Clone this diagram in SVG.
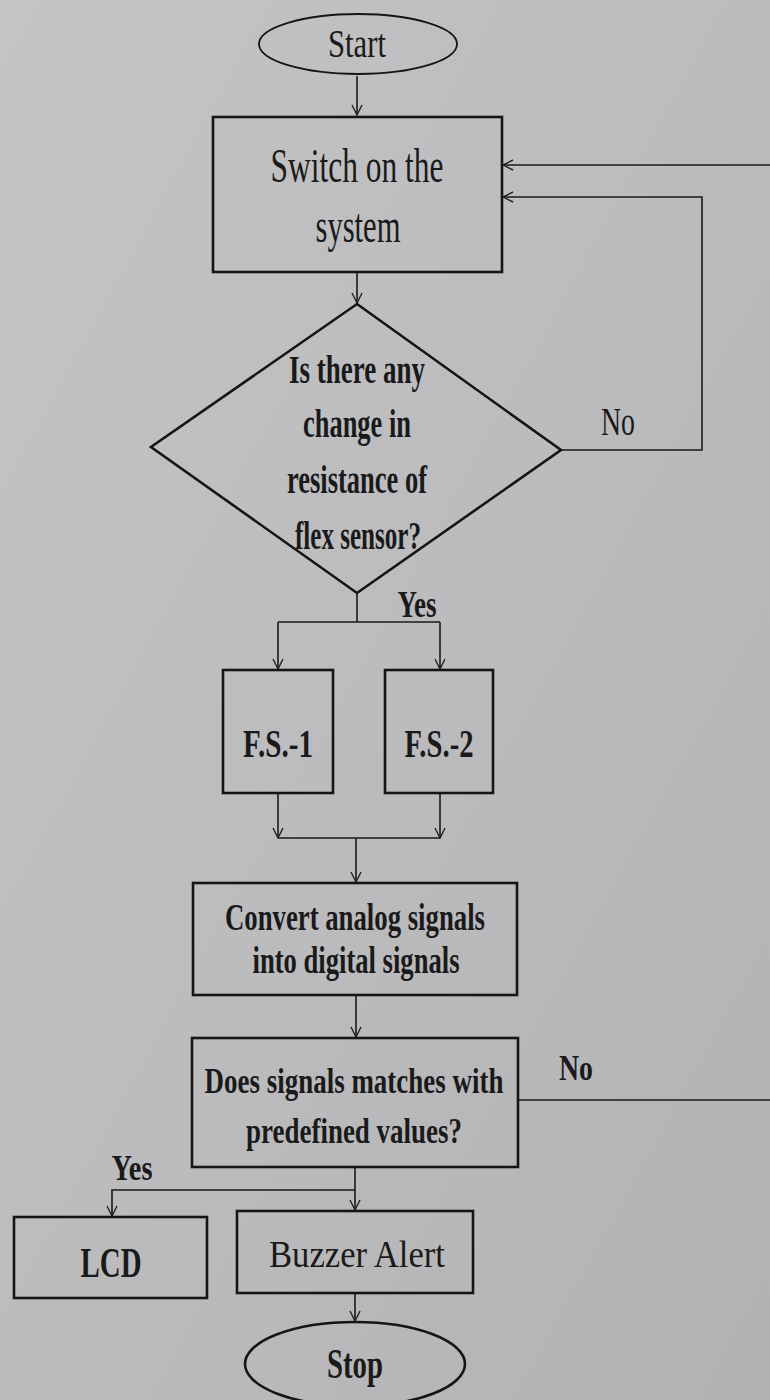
<svg xmlns="http://www.w3.org/2000/svg" width="770" height="1400" viewBox="0 0 770 1400">
<defs>
<linearGradient id="bg" x1="0" y1="0" x2="1" y2="1">
<stop offset="0" stop-color="#c4c4c6"/>
<stop offset="0.5" stop-color="#bcbcbf"/>
<stop offset="1" stop-color="#b2b2b4"/>
</linearGradient>
<marker id="arr" viewBox="0 0 12 12" refX="11" refY="6" markerWidth="12" markerHeight="12" markerUnits="userSpaceOnUse" orient="auto">
<path d="M1,1 L11,6 L1,11" fill="none" stroke="#222" stroke-width="1.4"/>
</marker>
<style>
.shape{fill:none;stroke:#151515;stroke-width:2.6}
.thin{fill:none;stroke:#151515;stroke-width:1.8}
.ln{fill:none;stroke:#1a1a1a;stroke-width:1.6}
.t{font-family:"Liberation Serif","Times New Roman",serif;fill:#1a1a1a;text-anchor:middle}
.b{font-weight:bold}
</style>
</defs>
<rect width="770" height="1400" fill="url(#bg)"/>

<g id="connectors">
<path class="ln" d="M357,76 V115" marker-end="url(#arr)"/>
<path class="ln" d="M770,165 H503" marker-end="url(#arr)"/>
<path class="ln" d="M561,450 H702 V197 H503" marker-end="url(#arr)"/>
<path class="ln" d="M357,273 V303" marker-end="url(#arr)"/>
<path class="ln" d="M357,593 V622"/>
<path class="ln" d="M278,622 H440"/>
<path class="ln" d="M278,622 V669" marker-end="url(#arr)"/>
<path class="ln" d="M440,622 V669" marker-end="url(#arr)"/>
<path class="ln" d="M278,794 V838" marker-end="url(#arr)"/>
<path class="ln" d="M440,794 V838" marker-end="url(#arr)"/>
<path class="ln" d="M278,838 H440"/>
<path class="ln" d="M356,838 V882" marker-end="url(#arr)"/>
<path class="ln" d="M356,996 V1037" marker-end="url(#arr)"/>
<path class="ln" d="M519,1100 H770"/>
<path class="ln" d="M355,1168 V1210" marker-end="url(#arr)"/>
<path class="ln" d="M355,1190 H112 V1216" marker-end="url(#arr)"/>
<path class="ln" d="M355,1294 V1321" marker-end="url(#arr)"/>
</g>

<g id="start">
<ellipse class="thin" cx="358" cy="44" rx="99" ry="30"/>
<text class="t" x="357" y="57" font-size="40" textLength="58" lengthAdjust="spacingAndGlyphs">Start</text>
</g>

<g id="switch-on">
<rect class="shape" x="213" y="117" width="289" height="155"/>
<text class="t" x="357" y="182" font-size="48" textLength="173" lengthAdjust="spacingAndGlyphs">Switch on the</text>
<text class="t" x="358" y="242" font-size="48" textLength="85" lengthAdjust="spacingAndGlyphs">system</text>
</g>

<g id="decision-flex">
<polygon class="shape" points="357,304 561,450 357,593 151,447"/>
<text class="t b" x="357" y="383" font-size="40" textLength="136" lengthAdjust="spacingAndGlyphs">Is there any</text>
<text class="t b" x="357" y="437" font-size="40" textLength="108" lengthAdjust="spacingAndGlyphs">change in</text>
<text class="t b" x="357" y="493" font-size="40" textLength="140" lengthAdjust="spacingAndGlyphs">resistance of</text>
<text class="t b" x="358" y="549" font-size="40" textLength="126" lengthAdjust="spacingAndGlyphs">flex sensor?</text>
</g>

<text class="t" x="618" y="435" font-size="40" textLength="34" lengthAdjust="spacingAndGlyphs">No</text>
<text class="t b" x="417" y="617" font-size="38" textLength="39" lengthAdjust="spacingAndGlyphs">Yes</text>

<g id="fs1">
<rect class="shape" x="223" y="670" width="110" height="123"/>
<text class="t b" x="278" y="757" font-size="40" textLength="70" lengthAdjust="spacingAndGlyphs">F.S.-1</text>
</g>

<g id="fs2">
<rect class="shape" x="385" y="670" width="108" height="123"/>
<text class="t b" x="439" y="757" font-size="40" textLength="69" lengthAdjust="spacingAndGlyphs">F.S.-2</text>
</g>

<g id="convert">
<rect class="shape" x="193" y="883" width="324" height="112"/>
<text class="t b" x="355" y="930" font-size="38" textLength="260" lengthAdjust="spacingAndGlyphs">Convert analog signals</text>
<text class="t b" x="356" y="973" font-size="38" textLength="207" lengthAdjust="spacingAndGlyphs">into digital signals</text>
</g>

<g id="decision-match">
<rect class="shape" x="192" y="1038" width="326" height="129"/>
<text class="t b" transform="translate(354,1093) scale(0.72,1)" x="0" y="0" font-size="36" textLength="415" lengthAdjust="spacingAndGlyphs">Does signals matches with</text>
<text class="t b" x="354" y="1143" font-size="36" textLength="216" lengthAdjust="spacingAndGlyphs">predefined values?</text>
</g>

<text class="t b" x="576" y="1080" font-size="36" textLength="34" lengthAdjust="spacingAndGlyphs">No</text>
<text class="t b" x="132" y="1180" font-size="36" textLength="41" lengthAdjust="spacingAndGlyphs">Yes</text>

<g id="lcd">
<rect class="shape" x="14" y="1217" width="193" height="81"/>
<text class="t b" x="111" y="1277" font-size="42" textLength="61" lengthAdjust="spacingAndGlyphs">LCD</text>
</g>

<g id="buzzer">
<rect class="shape" x="237" y="1211" width="236" height="82"/>
<text class="t" x="357" y="1267" font-size="38" textLength="176" lengthAdjust="spacingAndGlyphs">Buzzer Alert</text>
</g>

<g id="stop">
<ellipse class="shape" cx="355" cy="1364" rx="110" ry="42"/>
<text class="t b" x="355" y="1378" font-size="42" textLength="56" lengthAdjust="spacingAndGlyphs">Stop</text>
</g>
</svg>
